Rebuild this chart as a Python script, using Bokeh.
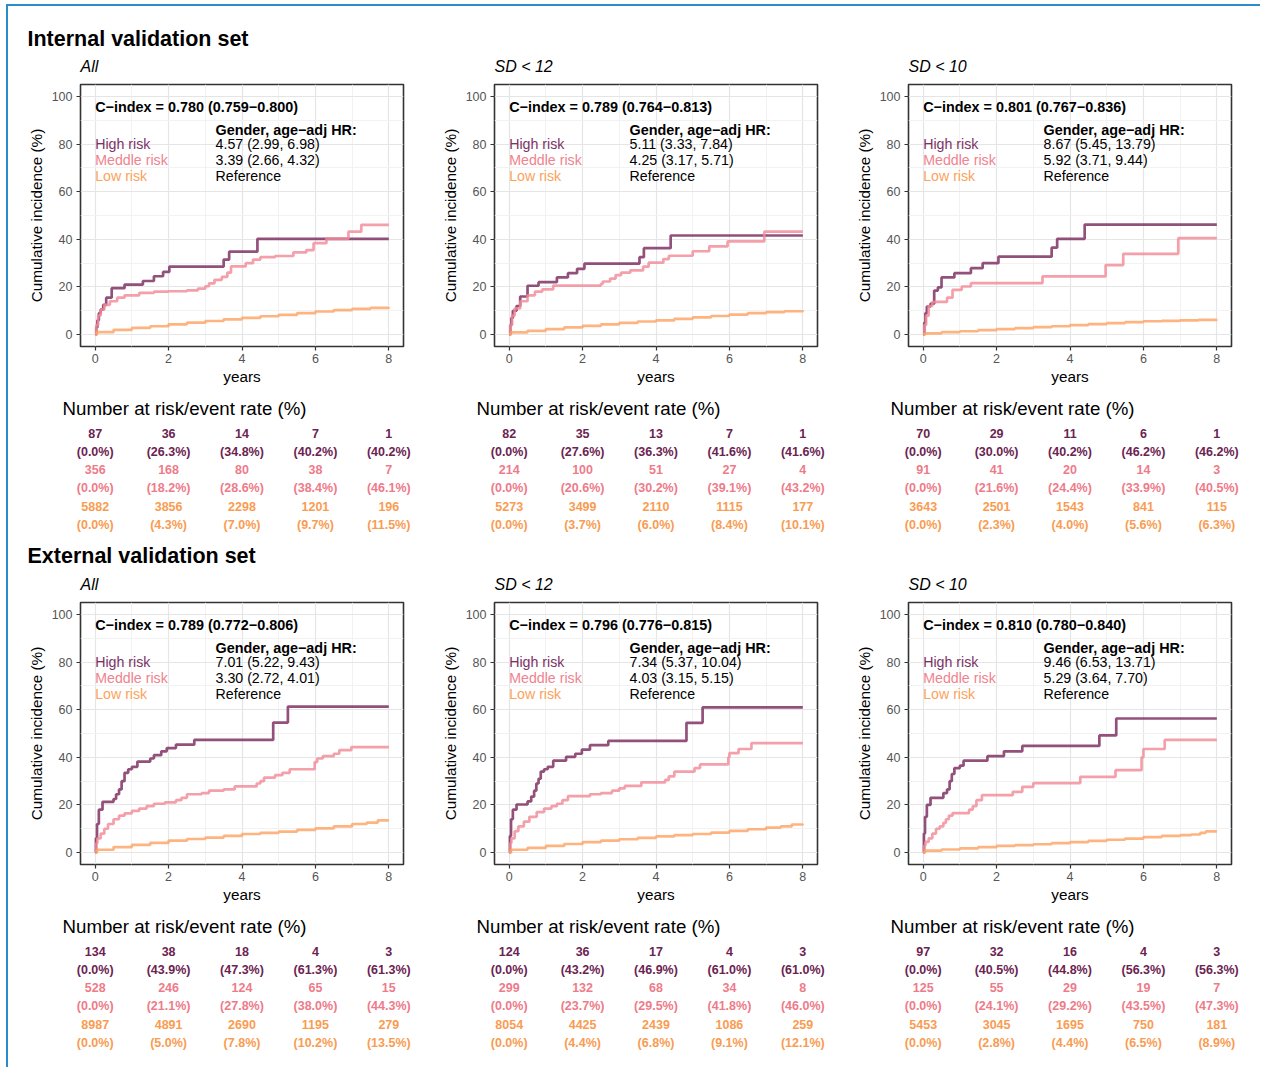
from bokeh.plotting import figure
from bokeh.layouts import column, row
from bokeh.models import Range1d, FixedTicker
from bokeh.core.properties import value
from bokeh.embed import file_html
from bokeh.resources import INLINE

# ---------------- data ----------------
subtitles = ["All", "SD < 12", "SD < 10"]
section_titles = ["Internal validation set", "External validation set"]
group_labels = ["High risk", "Meddle risk", "Low risk"]
risk_times = [0, 2, 4, 6, 8]
x_ticks = [0, 2, 4, 6, 8]
y_ticks = [0, 20, 40, 60, 80, 100]

# Internal - All
ia_hi_t = [0, 0.03, 0.06, 0.1, 0.15, 0.22, 0.3, 0.45, 0.8, 1.3, 1.6, 1.85, 2.02, 3.5, 3.65, 4.42, 8]
ia_hi_v = [0, 3, 6, 9, 10.5, 12.5, 15.5, 19.5, 21, 22.5, 24.5, 26.3, 28.5, 31.5, 34.8, 40.2, 40.2]
ia_mid_t = [0, 0.03, 0.08, 0.15, 0.25, 0.4, 0.6, 0.8, 1.2, 1.6, 2.0, 2.5, 2.8, 3.0, 3.1, 3.25, 3.45,
            3.6, 3.7, 4.1, 4.3, 4.5, 4.9, 5.4, 5.75, 5.95, 6.3, 6.9, 7.25, 8]
ia_mid_v = [0, 4, 8, 10.5, 12.5, 14, 15.5, 16.5, 17.5, 18, 18.2, 18.6, 19.3, 20.3, 21.5, 23, 24.2,
            26, 28.6, 30, 31.5, 32.5, 33, 34.5, 35.5, 38.4, 40.2, 43.2, 46.1, 46.1]
ia_lo_t = [0, 0.05, 0.5, 1, 1.5, 2, 2.5, 3, 3.5, 4, 4.5, 5, 5.5, 6, 6.5, 7, 7.5, 8]
ia_lo_v = [0, 1.0, 2.0, 2.8, 3.5, 4.3, 5.0, 5.7, 6.4, 7.0, 7.7, 8.3, 9.0, 9.7, 10.3, 10.8, 11.2, 11.5]

# Internal - SD < 12
i12_hi_t = [0, 0.03, 0.06, 0.1, 0.2, 0.3, 0.5, 0.8, 1.3, 1.6, 1.85, 2.05, 3.55, 3.67, 4.4, 8]
i12_hi_v = [0, 4, 7, 10, 12, 16, 20.5, 22, 24, 25.8, 27.6, 29.8, 32.5, 36.3, 41.6, 41.6]
i12_mid_t = [0, 0.03, 0.08, 0.15, 0.3, 0.5, 0.7, 0.9, 1.2, 2.5, 2.55, 2.75, 2.9, 3.05, 3.3, 3.65,
             3.8, 4.2, 4.35, 5.0, 5.45, 5.95, 6.95, 8]
i12_mid_v = [0, 4, 8, 11, 14, 16.5, 18, 19, 20.6, 21.3, 22.3, 23.5, 25, 26, 27, 28.5,
             30.2, 31.7, 33.1, 35, 37, 39.1, 43.2, 43.2]
i12_lo_t = [0, 0.05, 0.5, 1, 1.5, 2, 2.5, 3, 3.5, 4, 4.5, 5, 5.5, 6, 6.5, 7, 7.5, 8]
i12_lo_v = [0, 0.9, 1.6, 2.3, 3.0, 3.7, 4.3, 4.9, 5.5, 6.0, 6.6, 7.2, 7.8, 8.4, 9.0, 9.4, 9.8, 10.1]

# Internal - SD < 10
i10_hi_t = [0, 0.03, 0.06, 0.1, 0.2, 0.3, 0.4, 0.5, 0.85, 1.3, 1.62, 2.05, 3.5, 3.65, 4.4, 8]
i10_hi_v = [0, 5, 9, 11.8, 13, 18.5, 19.8, 24, 25.8, 27.9, 30.0, 32.7, 36.5, 40.2, 46.2, 46.2]
i10_mid_t = [0, 0.03, 0.08, 0.15, 0.25, 0.65, 0.8, 1.05, 1.3, 3.25, 4.97, 5.45, 6.95, 8]
i10_mid_v = [0, 4, 8, 12, 13.7, 15.5, 18.8, 20.2, 21.6, 24.4, 29.2, 33.9, 40.5, 40.5]
i10_lo_t = [0, 0.05, 0.5, 1, 1.5, 2, 2.5, 3, 3.5, 4, 4.5, 5, 5.5, 6, 6.5, 7, 7.5, 8]
i10_lo_v = [0, 0.5, 1.0, 1.4, 1.9, 2.3, 2.7, 3.1, 3.5, 4.0, 4.4, 4.8, 5.2, 5.6, 5.8, 6.0, 6.2, 6.3]

# External - All
ea_hi_t = [0, 0.02, 0.05, 0.1, 0.2, 0.5, 0.57, 0.65, 0.72, 0.8, 0.9, 1.0, 1.15, 1.5, 1.6, 1.8,
           1.95, 2.2, 2.7, 4.85, 5.25, 8]
ea_hi_v = [0, 6, 12, 18, 21.3, 22.5, 24.5, 26.5, 30, 33.5, 35, 36, 38.2, 39.5, 40.9, 42.5,
           43.9, 45.3, 47.3, 54.6, 61.3, 61.3]
ea_mid_t = [0, 0.03, 0.06, 0.15, 0.25, 0.35, 0.5, 0.65, 0.8, 1.0, 1.2, 1.4, 1.6, 1.9, 2.2, 2.35,
            2.5, 2.9, 3.1, 3.5, 3.8, 4.4, 4.5, 4.6, 4.9, 5.1, 5.3, 5.98, 6.05, 6.2, 6.5, 6.65,
            6.98, 8]
ea_mid_v = [0, 4, 6, 8, 10, 12, 14, 15.5, 16.5, 17.5, 18.5, 19.5, 20.5, 21.1, 22, 23,
            24.5, 25, 26, 26.5, 27.8, 29, 30, 31.5, 32.5, 33.5, 35, 38.0, 39.5, 40.5, 41.5, 43,
            44.3, 44.3]
ea_lo_t = [0, 0.05, 0.5, 1, 1.5, 2, 2.5, 3, 3.5, 4, 4.5, 5, 5.5, 6, 6.5, 7, 7.4, 7.7, 8]
ea_lo_v = [0, 1.2, 2.3, 3.2, 4.1, 5.0, 5.7, 6.3, 7.0, 7.8, 8.3, 8.8, 9.5, 10.2, 11.0, 12.0,
           12.6, 13.5, 13.5]

# External - SD < 12
e12_hi_t = [0, 0.02, 0.05, 0.1, 0.2, 0.5, 0.6, 0.68, 0.74, 0.8, 0.86, 0.95, 1.05, 1.2, 1.55,
            1.8, 1.98, 2.2, 2.7, 4.83, 5.27, 8]
e12_hi_v = [0, 7, 14, 18, 20.2, 21.5, 23.5, 26, 29, 31, 34, 35, 36, 38.6, 40.2,
            41.5, 43.2, 45.1, 46.9, 54.5, 61.0, 61.0]
e12_mid_t = [0, 0.03, 0.06, 0.15, 0.25, 0.4, 0.55, 0.75, 0.95, 1.15, 1.3, 1.45, 1.6, 2.2, 2.5,
             2.8, 3.0, 3.15, 3.6, 4.25, 4.35, 4.5, 5.05, 5.2, 5.97, 6.0, 6.25, 6.6, 8]
e12_mid_v = [0, 4, 6, 9, 11, 13, 15, 17, 18.5, 19.5, 20.5, 22, 23.7, 24.5, 25,
             26, 27, 28, 29.5, 30.5, 32, 34, 35.5, 37, 40, 41.8, 43.5, 46.0, 46.0]
e12_lo_t = [0, 0.05, 0.5, 1, 1.5, 2, 2.5, 3, 3.5, 4, 4.5, 5, 5.5, 6, 6.5, 7, 7.4, 7.7, 8]
e12_lo_v = [0, 1.2, 2.0, 2.8, 3.6, 4.4, 5.0, 5.6, 6.2, 6.8, 7.3, 7.8, 8.4, 9.1, 9.8, 10.5,
            11.0, 11.8, 12.1]

# External - SD < 10
e10_hi_t = [0, 0.02, 0.05, 0.1, 0.2, 0.55, 0.65, 0.72, 0.78, 0.85, 1.0, 1.1, 1.75, 2.2, 2.7,
            4.8, 5.26, 8]
e10_hi_v = [0, 8, 15, 20, 23, 25, 26.5, 30, 33, 35.5, 36.5, 38.6, 40.5, 42.5, 44.8,
            49.2, 56.3, 56.3]
e10_mid_t = [0, 0.03, 0.06, 0.15, 0.25, 0.35, 0.45, 0.55, 0.62, 0.7, 0.8, 1.25, 1.35, 1.45, 1.6,
             2.44, 2.7, 3.0, 4.28, 5.24, 5.95, 6.0, 6.58, 8]
e10_mid_v = [0, 3, 4.5, 6, 8, 10, 11, 12.5, 14, 15.5, 16.6, 18, 19.5, 22, 24.1,
             25.5, 27.6, 29.2, 31.8, 34.6, 40, 43.5, 47.3, 47.3]
e10_lo_t = [0, 0.05, 0.5, 1, 1.5, 2, 2.5, 3, 3.5, 4, 4.5, 5, 5.5, 6, 6.5, 7, 7.3, 7.55, 7.7, 8]
e10_lo_v = [0, 0.8, 1.3, 1.8, 2.3, 2.8, 3.1, 3.5, 4.0, 4.4, 4.9, 5.4, 5.9, 6.5, 7.0, 7.3,
            7.6, 8.3, 8.9, 8.9]

# C-index and hazard ratios
c_index = ["0.780 (0.759−0.800)", "0.789 (0.764−0.813)", "0.801 (0.767−0.836)",
           "0.789 (0.772−0.806)", "0.796 (0.776−0.815)", "0.810 (0.780−0.840)"]
hr_high = ["4.57 (2.99, 6.98)", "5.11 (3.33, 7.84)", "8.67 (5.45, 13.79)",
           "7.01 (5.22, 9.43)", "7.34 (5.37, 10.04)", "9.46 (6.53, 13.71)"]
hr_mid = ["3.39 (2.66, 4.32)", "4.25 (3.17, 5.71)", "5.92 (3.71, 9.44)",
          "3.30 (2.72, 4.01)", "4.03 (3.15, 5.15)", "5.29 (3.64, 7.70)"]

# Number at risk / event rate tables
ia_hi_n = [87, 36, 14, 7, 1];            ia_hi_r = [0.0, 26.3, 34.8, 40.2, 40.2]
ia_mid_n = [356, 168, 80, 38, 7];        ia_mid_r = [0.0, 18.2, 28.6, 38.4, 46.1]
ia_lo_n = [5882, 3856, 2298, 1201, 196]; ia_lo_r = [0.0, 4.3, 7.0, 9.7, 11.5]
i12_hi_n = [82, 35, 13, 7, 1];            i12_hi_r = [0.0, 27.6, 36.3, 41.6, 41.6]
i12_mid_n = [214, 100, 51, 27, 4];        i12_mid_r = [0.0, 20.6, 30.2, 39.1, 43.2]
i12_lo_n = [5273, 3499, 2110, 1115, 177]; i12_lo_r = [0.0, 3.7, 6.0, 8.4, 10.1]
i10_hi_n = [70, 29, 11, 6, 1];            i10_hi_r = [0.0, 30.0, 40.2, 46.2, 46.2]
i10_mid_n = [91, 41, 20, 14, 3];          i10_mid_r = [0.0, 21.6, 24.4, 33.9, 40.5]
i10_lo_n = [3643, 2501, 1543, 841, 115];  i10_lo_r = [0.0, 2.3, 4.0, 5.6, 6.3]
ea_hi_n = [134, 38, 18, 4, 3];            ea_hi_r = [0.0, 43.9, 47.3, 61.3, 61.3]
ea_mid_n = [528, 246, 124, 65, 15];       ea_mid_r = [0.0, 21.1, 27.8, 38.0, 44.3]
ea_lo_n = [8987, 4891, 2690, 1195, 279];  ea_lo_r = [0.0, 5.0, 7.8, 10.2, 13.5]
e12_hi_n = [124, 36, 17, 4, 3];           e12_hi_r = [0.0, 43.2, 46.9, 61.0, 61.0]
e12_mid_n = [299, 132, 68, 34, 8];        e12_mid_r = [0.0, 23.7, 29.5, 41.8, 46.0]
e12_lo_n = [8054, 4425, 2439, 1086, 259]; e12_lo_r = [0.0, 4.4, 6.8, 9.1, 12.1]
e10_hi_n = [97, 32, 16, 4, 3];            e10_hi_r = [0.0, 40.5, 44.8, 56.3, 56.3]
e10_mid_n = [125, 55, 29, 19, 7];         e10_mid_r = [0.0, 24.1, 29.2, 43.5, 47.3]
e10_lo_n = [5453, 3045, 1695, 750, 181];  e10_lo_r = [0.0, 2.8, 4.4, 6.5, 8.9]

# ---------------- style ----------------
FONT = value("Liberation Sans")
LINE_COLORS = ["#7a2b5e", "#f28b98", "#fca464"]
TEXT_COLORS = ["#7d3266", "#f0838f", "#fba35c"]
TABLE_COLORS = ["#6c2352", "#ee7b89", "#f99c52"]

PANEL_W, PANEL_H = 414, 314
BL, BR, BT, BB = 72, 19, 8, 44
X0, X1 = -0.4, 8.4
FRAME_W = PANEL_W - BL - BR
PX_PER_YR = FRAME_W / (X1 - X0)
TABLE_H = 148
TOTAL_W = 3 * PANEL_W


def km_panel(curves, k):
    p = figure(width=PANEL_W, height=PANEL_H, x_range=Range1d(X0, X1), y_range=Range1d(-5, 105),
               output_backend="svg", toolbar_location=None,
               min_border_left=BL, min_border_right=BR, min_border_top=BT, min_border_bottom=BB)
    p.background_fill_color = "white"
    p.border_fill_color = "white"
    p.outline_line_color = "#333333"
    p.outline_line_width = 1.6
    p.xaxis.ticker = FixedTicker(ticks=x_ticks, minor_ticks=[1, 3, 5, 7])
    p.yaxis.ticker = FixedTicker(ticks=y_ticks, minor_ticks=[10, 30, 50, 70, 90])
    for ax in (p.xaxis, p.yaxis):
        ax.axis_line_color = None
        ax.major_tick_line_color = "#333333"
        ax.major_tick_line_width = 1.2
        ax.major_tick_in = 0
        ax.major_tick_out = 4
        ax.minor_tick_line_color = None
        ax.major_label_text_font = "Liberation Sans"
        ax.major_label_text_font_size = "12.5px"
        ax.major_label_text_color = "#555555"
        ax.axis_label_text_font = "Liberation Sans"
        ax.axis_label_text_font_size = "15.3px"
        ax.axis_label_text_font_style = "normal"
        ax.axis_label_text_color = "black"
    p.xaxis.axis_label = "years"
    p.yaxis.axis_label = "Cumulative incidence (%)"
    p.xaxis.major_label_standoff = 3
    p.xaxis.axis_label_standoff = 2
    p.yaxis.major_label_standoff = 4
    p.yaxis.axis_label_standoff = 4
    for g in (p.xgrid, p.ygrid):
        g.grid_line_color = "#e5e5e5"
        g.grid_line_width = 1.2
        g.minor_grid_line_color = "#f0f0f0"
        g.minor_grid_line_width = 0.9

    for (t, v), c in zip(curves, LINE_COLORS):
        p.step(x=t, y=v, mode="after", line_color=c, line_width=2.7, line_alpha=0.82)

    p.text(x=[0], y=[95.4], text=["C−index = " + c_index[k]], text_font=FONT,
           text_font_style="bold", text_font_size="14.4px", text_baseline="middle", text_color="black")
    p.text(x=[3.28], y=[85.8], text=["Gender, age−adj HR:"], text_font=FONT,
           text_font_style="bold", text_font_size="14.4px", text_baseline="middle", text_color="black")
    rows_y = [79.9, 73.2, 66.6]
    p.text(x=[0, 0, 0], y=rows_y, text=group_labels, text_font=FONT, text_font_size="14.2px",
           text_baseline="middle", text_color=TEXT_COLORS)
    p.text(x=[3.28] * 3, y=rows_y, text=[hr_high[k], hr_mid[k], "Reference"], text_font=FONT,
           text_font_size="14.2px", text_baseline="middle", text_color="black")
    return p


def table_panel(tab):
    x_start = X0 - BL / PX_PER_YR
    x_end = x_start + PANEL_W / PX_PER_YR
    t = figure(width=PANEL_W, height=TABLE_H, x_range=Range1d(x_start, x_end),
               y_range=Range1d(TABLE_H, 0), output_backend="svg", toolbar_location=None,
               x_axis_location=None, y_axis_location=None, min_border=0)
    t.grid.visible = False
    t.outline_line_color = None
    t.background_fill_color = "white"
    t.border_fill_color = "white"
    t.text(x=[x_start + (BL - 18) / PX_PER_YR], y=[17.5], text=["Number at risk/event rate (%)"],
           text_font=FONT, text_font_size="18.7px", text_baseline="middle", text_color="black")
    row_y0, row_dy = 43, 18.2
    for gi, ((n, r), c) in enumerate(zip(tab, TABLE_COLORS)):
        yn = row_y0 + 2 * gi * row_dy
        yr = yn + row_dy
        t.text(x=risk_times, y=[yn] * 5, text=[str(v) for v in n], text_font=FONT,
               text_font_style="bold", text_font_size="12.5px", text_align="center",
               text_baseline="middle", text_color=c)
        t.text(x=risk_times, y=[yr] * 5, text=["({:.1f}%)".format(v) for v in r], text_font=FONT,
               text_font_style="bold", text_font_size="12.5px", text_align="center",
               text_baseline="middle", text_color=c)
    return t


def header(title, h, ty, sy):
    f = figure(width=TOTAL_W, height=h, x_range=Range1d(0, TOTAL_W), y_range=Range1d(h, 0),
               output_backend="svg", toolbar_location=None, x_axis_location=None,
               y_axis_location=None, min_border=0)
    f.grid.visible = False
    f.outline_line_color = None
    f.background_fill_color = "white"
    f.border_fill_color = "white"
    f.text(x=[BL - 53], y=[ty], text=[title], text_font=FONT, text_font_style="bold",
           text_font_size="21.5px", text_baseline="middle", text_color="black")
    f.text(x=[BL + i * PANEL_W for i in range(3)], y=[sy] * 3, text=subtitles, text_font=FONT,
           text_font_style="italic", text_font_size="16px", text_baseline="middle",
           text_color="black")
    return f


curves_all = [
    [(ia_hi_t, ia_hi_v), (ia_mid_t, ia_mid_v), (ia_lo_t, ia_lo_v)],
    [(i12_hi_t, i12_hi_v), (i12_mid_t, i12_mid_v), (i12_lo_t, i12_lo_v)],
    [(i10_hi_t, i10_hi_v), (i10_mid_t, i10_mid_v), (i10_lo_t, i10_lo_v)],
    [(ea_hi_t, ea_hi_v), (ea_mid_t, ea_mid_v), (ea_lo_t, ea_lo_v)],
    [(e12_hi_t, e12_hi_v), (e12_mid_t, e12_mid_v), (e12_lo_t, e12_lo_v)],
    [(e10_hi_t, e10_hi_v), (e10_mid_t, e10_mid_v), (e10_lo_t, e10_lo_v)],
]
tables_all = [
    [(ia_hi_n, ia_hi_r), (ia_mid_n, ia_mid_r), (ia_lo_n, ia_lo_r)],
    [(i12_hi_n, i12_hi_r), (i12_mid_n, i12_mid_r), (i12_lo_n, i12_lo_r)],
    [(i10_hi_n, i10_hi_r), (i10_mid_n, i10_mid_r), (i10_lo_n, i10_lo_r)],
    [(ea_hi_n, ea_hi_r), (ea_mid_n, ea_mid_r), (ea_lo_n, ea_lo_r)],
    [(e12_hi_n, e12_hi_r), (e12_mid_n, e12_mid_r), (e12_lo_n, e12_lo_r)],
    [(e10_hi_n, e10_hi_r), (e10_mid_n, e10_mid_r), (e10_lo_n, e10_lo_r)],
]

h1 = header(section_titles[0], 70, 32, 60)
h2 = header(section_titles[1], 56, 17, 46)
row1 = row(*[km_panel(curves_all[k], k) for k in range(3)], spacing=0)
trow1 = row(*[table_panel(tables_all[k]) for k in range(3)], spacing=0)
row2 = row(*[km_panel(curves_all[k], k) for k in range(3, 6)], spacing=0)
trow2 = row(*[table_panel(tables_all[k]) for k in range(3, 6)], spacing=0)

layout = column(h1, row1, trow1, h2, row2, trow2, spacing=0,
                styles={"border-top": "2px solid #2a8cc8", "border-left": "2px solid #2a8cc8",
                        "margin-left": "6px", "margin-top": "4px",
                        "padding-right": "10px", "padding-bottom": "11px"})

open("out.html", "w").write(file_html(layout, INLINE))
